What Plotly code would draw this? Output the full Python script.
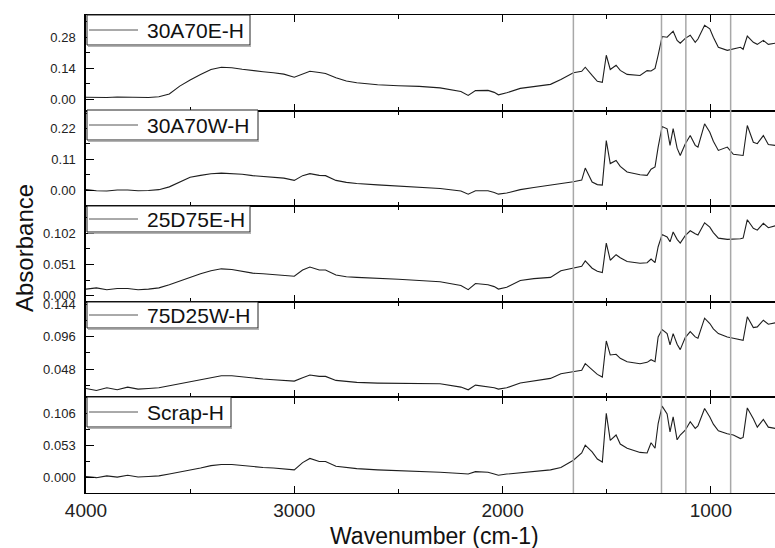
import plotly.graph_objects as go
from plotly.subplots import make_subplots

wavenumber = [4000, 3950, 3900, 3850, 3800, 3750, 3700, 3650, 3600, 3550, 3500, 3450, 3400, 3350,
              3300, 3250, 3200, 3150, 3100, 3050, 3000, 2960, 2925, 2880, 2850, 2800, 2750, 2700,
              2600, 2500, 2400, 2300, 2200, 2165, 2130, 2070, 2040, 2020, 1980, 1915, 1850, 1770,
              1720, 1660, 1620, 1603, 1570, 1545, 1521, 1502, 1483, 1455, 1435, 1402, 1340, 1306,
              1287, 1268, 1253, 1234, 1210, 1196, 1181, 1162, 1147, 1123, 1099, 1075, 1062, 1030,
              1005, 988, 964, 921, 892, 858, 845, 825, 796, 777, 748, 724, 691]

names = ["30A70E-H", "30A70W-H", "25D75E-H", "75D25W-H", "Scrap-H"]

abs_30A70E = [0.010, 0.008, 0.009, 0.011, 0.010, 0.008, 0.009, 0.012, 0.025, 0.060, 0.088, 0.112, 0.135, 0.145,
              0.143, 0.136, 0.129, 0.125, 0.120, 0.114, 0.100, 0.116, 0.127, 0.121, 0.117, 0.098, 0.083, 0.075,
              0.066, 0.062, 0.059, 0.052, 0.036, 0.018, 0.040, 0.041, 0.032, 0.021, 0.030, 0.050, 0.058, 0.068,
              0.090, 0.120, 0.127, 0.145, 0.108, 0.082, 0.077, 0.199, 0.135, 0.154, 0.131, 0.113, 0.108, 0.130,
              0.128, 0.140, 0.200, 0.283, 0.280, 0.295, 0.307, 0.266, 0.253, 0.275, 0.289, 0.257, 0.272, 0.334,
              0.318, 0.280, 0.235, 0.221, 0.226, 0.235, 0.226, 0.285, 0.257, 0.248, 0.266, 0.248, 0.253]

abs_30A70W = [0.002, -0.002, -0.003, 0.001, 0.001, -0.002, -0.001, 0.002, 0.012, 0.030, 0.046, 0.053, 0.059, 0.061,
              0.060, 0.057, 0.052, 0.049, 0.046, 0.043, 0.035, 0.052, 0.059, 0.053, 0.052, 0.035, 0.028, 0.024,
              0.019, 0.014, 0.010, 0.006, -0.003, -0.014, -0.002, -0.002, -0.008, -0.014, -0.010, 0.002, 0.010, 0.018,
              0.024, 0.030, 0.036, 0.079, 0.029, 0.020, 0.018, 0.177, 0.095, 0.106, 0.085, 0.065, 0.055, 0.053,
              0.075, 0.083, 0.154, 0.227, 0.219, 0.160, 0.220, 0.150, 0.124, 0.165, 0.195, 0.160, 0.154, 0.237,
              0.207, 0.175, 0.142, 0.154, 0.128, 0.124, 0.124, 0.231, 0.171, 0.166, 0.195, 0.163, 0.160]

abs_25D75E = [0.011, 0.013, 0.010, 0.012, 0.012, 0.010, 0.011, 0.013, 0.018, 0.024, 0.031, 0.036, 0.041, 0.044,
              0.043, 0.040, 0.037, 0.036, 0.035, 0.034, 0.032, 0.042, 0.047, 0.042, 0.042, 0.034, 0.031, 0.030,
              0.029, 0.027, 0.025, 0.023, 0.017, 0.010, 0.020, 0.018, 0.015, 0.011, 0.014, 0.025, 0.028, 0.030,
              0.041, 0.045, 0.048, 0.057, 0.045, 0.040, 0.038, 0.086, 0.058, 0.067, 0.062, 0.056, 0.053, 0.054,
              0.060, 0.054, 0.080, 0.100, 0.096, 0.088, 0.104, 0.092, 0.086, 0.098, 0.106, 0.101, 0.099, 0.119,
              0.112, 0.103, 0.094, 0.092, 0.092, 0.093, 0.094, 0.124, 0.110, 0.107, 0.118, 0.111, 0.114]

abs_75D25W = [0.019, 0.016, 0.020, 0.017, 0.021, 0.018, 0.019, 0.020, 0.023, 0.026, 0.029, 0.033, 0.036, 0.038,
              0.038, 0.036, 0.034, 0.033, 0.032, 0.031, 0.030, 0.035, 0.039, 0.037, 0.037, 0.031, 0.029, 0.028,
              0.027, 0.027, 0.027, 0.026, 0.021, 0.017, 0.024, 0.022, 0.020, 0.018, 0.020, 0.027, 0.030, 0.034,
              0.041, 0.044, 0.046, 0.056, 0.047, 0.040, 0.036, 0.090, 0.069, 0.070, 0.064, 0.059, 0.056, 0.058,
              0.062, 0.059, 0.096, 0.107, 0.101, 0.084, 0.101, 0.085, 0.077, 0.095, 0.104, 0.096, 0.094, 0.124,
              0.116, 0.108, 0.101, 0.096, 0.094, 0.091, 0.091, 0.126, 0.110, 0.111, 0.121, 0.115, 0.117]

abs_scrap = [0.001, -0.001, 0.002, 0.000, 0.003, 0.000, 0.001, 0.002, 0.005, 0.008, 0.011, 0.015, 0.019, 0.021,
             0.021, 0.019, 0.017, 0.016, 0.015, 0.014, 0.012, 0.024, 0.031, 0.026, 0.026, 0.018, 0.016, 0.014,
             0.012, 0.011, 0.010, 0.008, 0.006, 0.005, 0.009, 0.008, 0.005, 0.003, 0.005, 0.007, 0.009, 0.012,
             0.016, 0.028, 0.040, 0.053, 0.042, 0.030, 0.025, 0.106, 0.061, 0.070, 0.055, 0.048, 0.041, 0.040,
             0.057, 0.048, 0.089, 0.118, 0.105, 0.075, 0.100, 0.062, 0.070, 0.078, 0.092, 0.081, 0.085, 0.114,
             0.100, 0.088, 0.077, 0.072, 0.070, 0.064, 0.066, 0.115, 0.097, 0.083, 0.096, 0.083, 0.081]

series = [abs_30A70E, abs_30A70W, abs_25D75E, abs_75D25W, abs_scrap]

# per-panel y axis settings: range, major step, tick format
y_ranges = [[-0.05, 0.38], [-0.057, 0.284], [-0.0097, 0.146], [0.0056, 0.1485], [-0.0265, 0.1325]]
y_dticks = [0.14, 0.11, 0.051, 0.048, 0.053]
y_formats = [".2f", ".2f", ".3f", ".3f", ".3f"]
ref_lines = [1660, 1237, 1120, 905]

W, H = 775, 548
L, R, T, B = 86, 0, 15, 55
PW, PH = W - L - R, H - T - B


def pxx(p):
    return (p - L) / PW


def pxy(p):
    return (H - B - p) / PH


FONT = "Liberation Sans, Arial, sans-serif"

fig = make_subplots(rows=5, cols=1, shared_xaxes=True, vertical_spacing=0)

for i, (nm, vals) in enumerate(zip(names, series)):
    fig.add_trace(go.Scatter(x=wavenumber, y=vals, mode="lines", name=nm,
                             line=dict(color="#1e1e1e", width=1.1), showlegend=False),
                  row=i + 1, col=1)
    fig.update_yaxes(range=y_ranges[i], tickmode="linear", tick0=0, dtick=y_dticks[i],
                     tickformat=y_formats[i], showgrid=False, zeroline=False,
                     showline=True, linecolor="black", linewidth=1.5,
                     ticks="inside", ticklen=8, tickwidth=1.2, tickcolor="black",
                     ticklabelstandoff=6,
                     minor=dict(ticks="inside", ticklen=4, dtick=y_dticks[i] / 2, tick0=0,
                                tickcolor="black", showgrid=False),
                     tickfont=dict(family=FONT, size=13, color="#222"),
                     row=i + 1, col=1)
    fig.update_xaxes(range=[4000, 692], showgrid=False, zeroline=False,
                     showline=True, linecolor="black", linewidth=1, mirror="ticks",
                     ticks="inside", ticklen=7, tickwidth=1.2, tickcolor="black",
                     tickmode="linear", tick0=0, dtick=1000,
                     minor=dict(ticks="inside", ticklen=4, dtick=500, tick0=0, tickcolor="black"),
                     showticklabels=(i == 4), ticklabelstandoff=0,
                     tickfont=dict(family=FONT, size=19, color="#222"),
                     row=i + 1, col=1)

shapes = []
for wn in ref_lines:
    shapes.append(dict(type="line", xref="x", yref="paper", x0=wn, x1=wn, y0=0, y1=1,
                       line=dict(color="#a8a8a8", width=1.5), layer="above"))

boxes = [(15, 45, 250), (110, 140, 258), (206, 232, 250), (302, 328, 258), (397, 427, 231)]
annotations = []
for (top, bot, right), nm in zip(boxes, names):
    shapes.append(dict(type="rect", xref="paper", yref="paper",
                       x0=pxx(L + 1), x1=pxx(right), y0=pxy(bot), y1=pxy(top),
                       line=dict(color="#222", width=1), fillcolor="white", layer="above"))
    shapes.append(dict(type="line", xref="paper", yref="paper",
                       x0=pxx(L + 2), x1=pxx(right + 1), y0=pxy(bot + 1), y1=pxy(bot + 1),
                       line=dict(color="#9a9a9a", width=1.5), layer="above"))
    cy = (top + bot) / 2
    shapes.append(dict(type="line", xref="paper", yref="paper",
                       x0=pxx(89), x1=pxx(138), y0=pxy(cy), y1=pxy(cy),
                       line=dict(color="#555", width=1), layer="above"))
    annotations.append(dict(text=nm, xref="paper", yref="paper", x=pxx(145), y=pxy(cy + 0.5),
                            xanchor="left", yanchor="middle", showarrow=False,
                            font=dict(family=FONT, size=21, color="#111")))

# tick labels that fall just outside their panel's range
annotations.append(dict(text="0.153", xref="paper", yref="y3", x=0, y=0.153, xanchor="right",
                        yanchor="middle", xshift=-11, showarrow=False,
                        font=dict(family=FONT, size=13, color="#222")))
annotations.append(dict(text="0.000", xref="paper", yref="y4", x=0, y=0.0, xanchor="right",
                        yanchor="middle", xshift=-11, showarrow=False,
                        font=dict(family=FONT, size=13, color="#222")))

annotations.append(dict(text="Absorbance", xref="paper", yref="paper", x=pxx(24), y=pxy(248),
                        xanchor="center", yanchor="middle", textangle=-90, showarrow=False,
                        font=dict(family=FONT, size=24, color="#111")))
annotations.append(dict(text="Wavenumber (cm-1)", xref="paper", yref="paper", x=pxx(434), y=pxy(536),
                        xanchor="center", yanchor="middle", showarrow=False,
                        font=dict(family=FONT, size=23, color="#111")))

fig.update_layout(width=W, height=H, margin=dict(l=L, r=R, t=T, b=B),
                  plot_bgcolor="white", paper_bgcolor="white",
                  shapes=shapes, annotations=annotations, showlegend=False)

fig.write_html("out.html")
